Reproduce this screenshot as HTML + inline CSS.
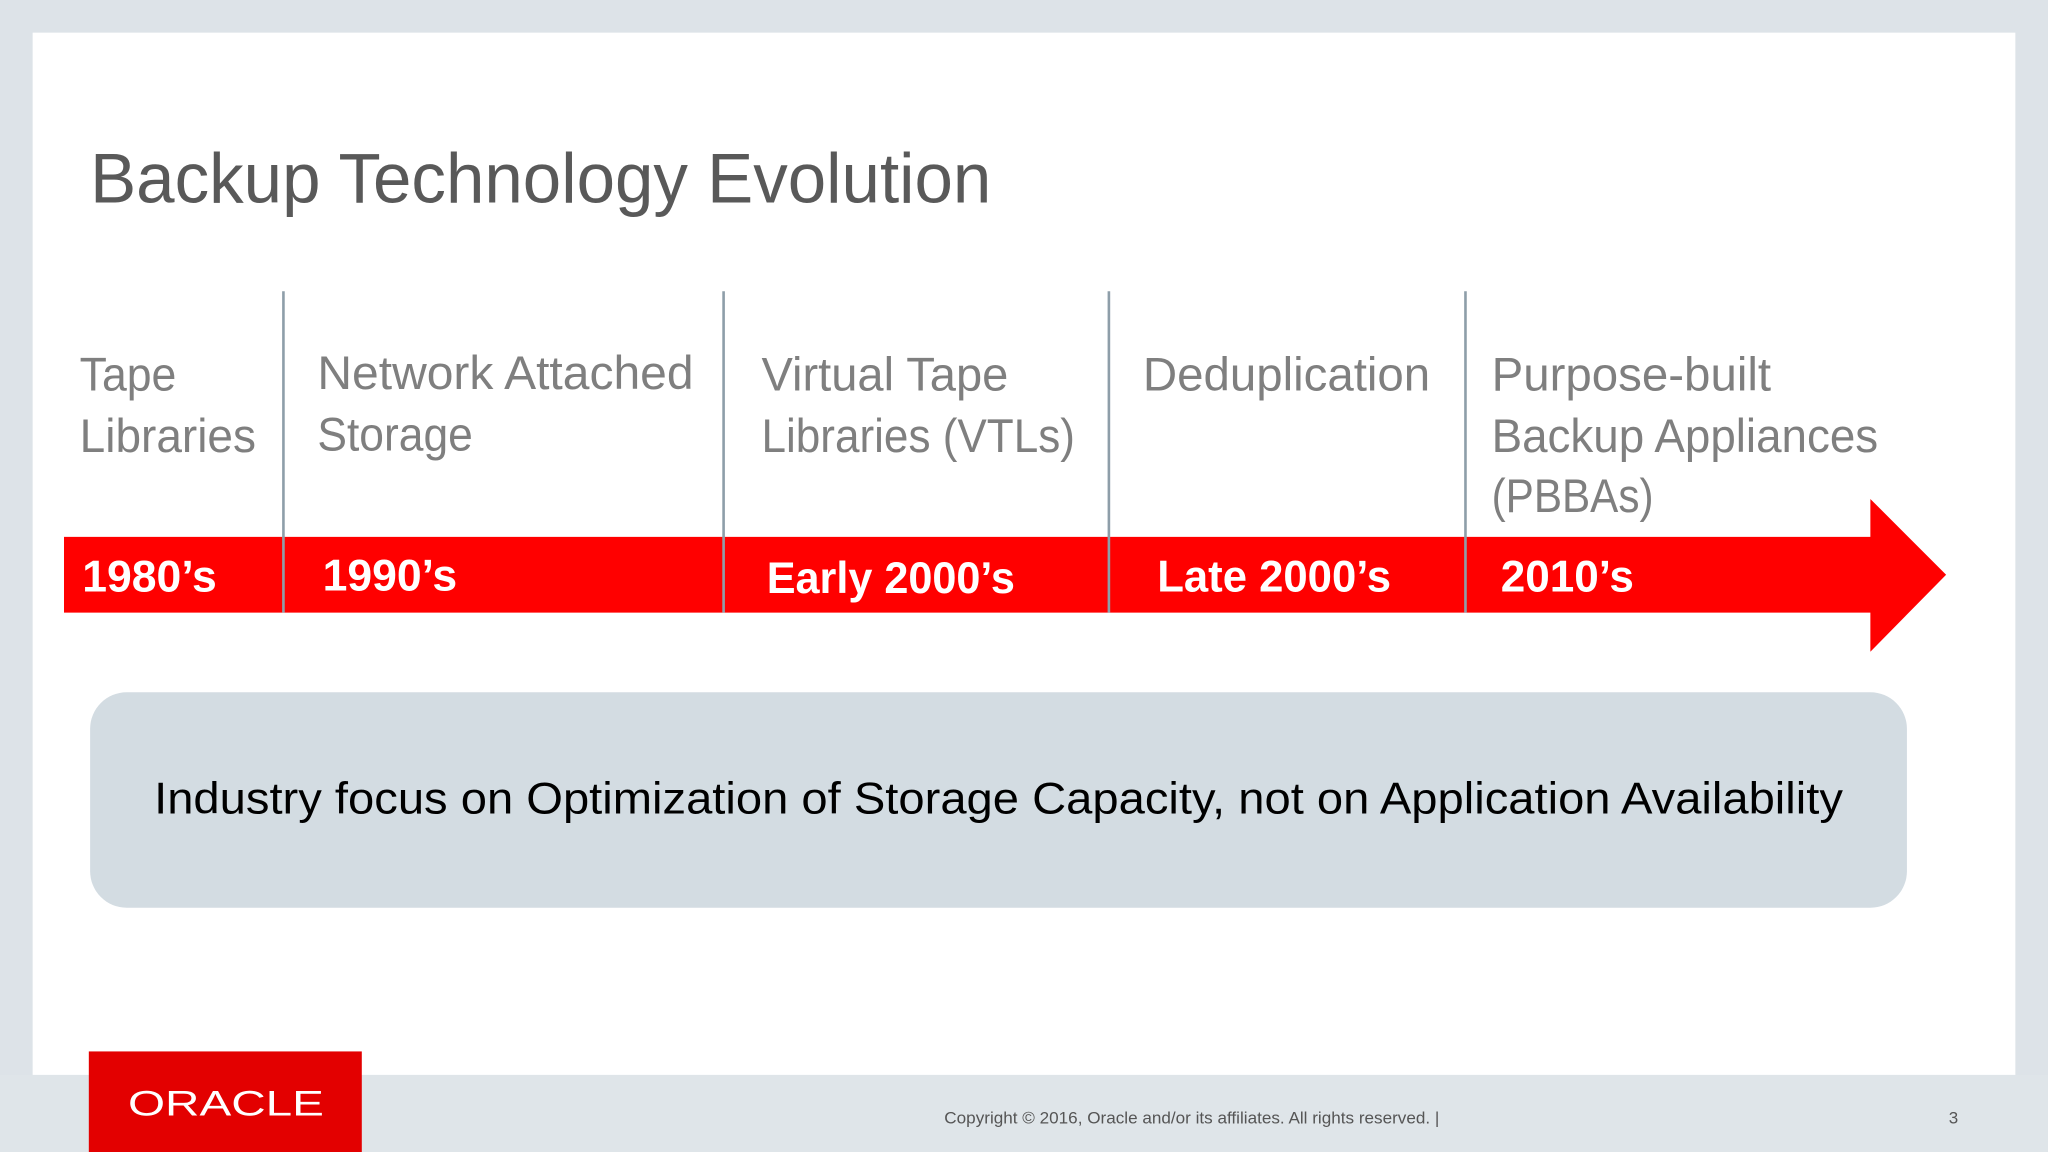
<!DOCTYPE html>
<html><head><meta charset="utf-8"><style>
html,body{margin:0;padding:0;background:#dde3e8;}
svg{display:block;}
text{font-family:"Liberation Sans",sans-serif;}
</style></head><body>
<svg width="2048" height="1152" viewBox="0 0 1568 882" xmlns="http://www.w3.org/2000/svg">
<rect x="0" y="0" width="1568" height="882" fill="#dde3e8"/>
<rect x="25" y="25" width="1518" height="798" fill="#ffffff"/>
<rect x="0" y="823" width="1568" height="59" fill="#dfe5e9"/>
<text x="69" y="155" font-size="54" fill="#595959" textLength="690" lengthAdjust="spacingAndGlyphs">Backup Technology Evolution</text>

<g font-size="36" fill="#7f7f7f">
<text x="61" y="299" textLength="74" lengthAdjust="spacingAndGlyphs">Tape</text>
<text x="61" y="346" textLength="135" lengthAdjust="spacingAndGlyphs">Libraries</text>
<text x="243" y="298" textLength="288" lengthAdjust="spacingAndGlyphs">Network Attached</text>
<text x="243" y="345" textLength="119" lengthAdjust="spacingAndGlyphs">Storage</text>
<text x="583" y="299" textLength="189" lengthAdjust="spacingAndGlyphs">Virtual Tape</text>
<text x="583" y="346" textLength="240" lengthAdjust="spacingAndGlyphs">Libraries (VTLs)</text>
<text x="875" y="299" textLength="220" lengthAdjust="spacingAndGlyphs">Deduplication</text>
<text x="1142" y="299" textLength="214" lengthAdjust="spacingAndGlyphs">Purpose-built</text>
<text x="1142" y="346" textLength="296" lengthAdjust="spacingAndGlyphs">Backup Appliances</text>
<text x="1142" y="392" textLength="124" lengthAdjust="spacingAndGlyphs">(PBBAs)</text>
</g>

<path d="M49 411 H1432 V382 L1490 440 L1432 499 V469 H49 Z" fill="#ff0000"/>
<g stroke="#8e9ea9" stroke-width="2">
<line x1="217" y1="223" x2="217" y2="469"/>
<line x1="554" y1="223" x2="554" y2="469"/>
<line x1="849" y1="223" x2="849" y2="469"/>
<line x1="1122" y1="223" x2="1122" y2="469"/>
</g>
<g font-size="34" font-weight="bold" fill="#ffffff">
<text x="63" y="453" textLength="103" lengthAdjust="spacingAndGlyphs">1980’s</text>
<text x="247" y="452" textLength="103" lengthAdjust="spacingAndGlyphs">1990’s</text>
<text x="587" y="454" textLength="190" lengthAdjust="spacingAndGlyphs">Early 2000’s</text>
<text x="886" y="453" textLength="179" lengthAdjust="spacingAndGlyphs">Late 2000’s</text>
<text x="1149" y="453" textLength="102" lengthAdjust="spacingAndGlyphs">2010’s</text>
</g>

<rect x="69" y="530" width="1391" height="165" rx="28" fill="#d3dce2"/>
<text x="118" y="623" font-size="34" fill="#000000" textLength="1293" lengthAdjust="spacingAndGlyphs">Industry focus on Optimization of Storage Capacity, not on Application Availability</text>

<rect x="68" y="805" width="209" height="77" fill="#e30000"/>
<text x="98" y="854" font-size="27" fill="#ffffff" textLength="150" lengthAdjust="spacingAndGlyphs">ORACLE</text>
<text x="723" y="860" font-size="13" fill="#555555" textLength="379" lengthAdjust="spacingAndGlyphs">Copyright © 2016, Oracle and/or its affiliates. All rights reserved.  |</text>
<text x="1492" y="860" font-size="13" fill="#555555">3</text>
</svg>
</body></html>
